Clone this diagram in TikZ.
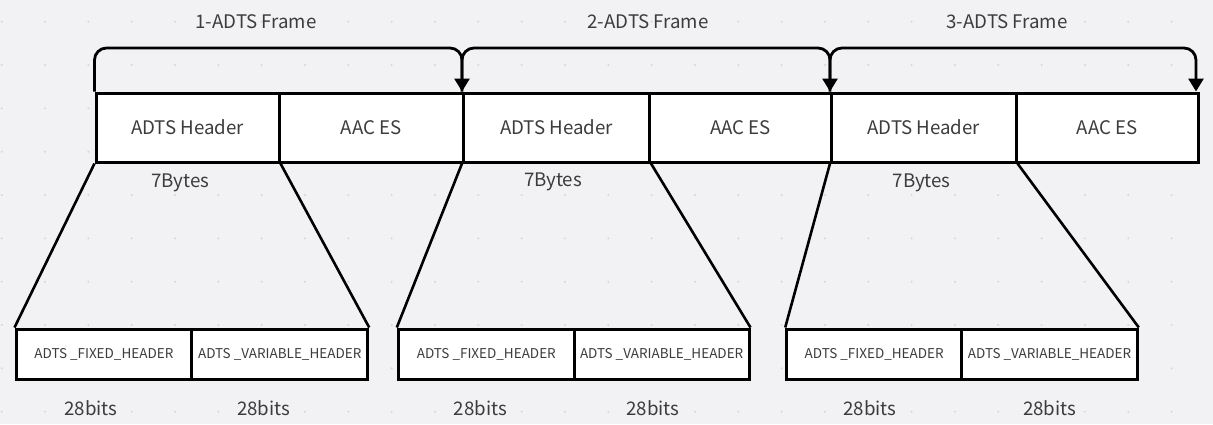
\documentclass[tikz,border=0pt]{standalone}
\usepackage{fontspec}
\setmainfont{Noto Sans CJK SC}
\usetikzlibrary{arrows.meta,calc}
\definecolor{bgc}{HTML}{F2F2F4}
\definecolor{dotc}{HTML}{D6D6DA}
\definecolor{txtc}{HTML}{3C3C3C}
\tikzset{
  topbox/.style={draw=black, line width=3pt, fill=white, minimum height=69pt, inner sep=0pt, text=txtc, font=\fontsize{18.7}{22}\selectfont},
  subbox/.style={draw=black, line width=3pt, fill=white, minimum height=50pt, inner sep=0pt, text=txtc, font=\fontsize{13.5}{16}\selectfont},
  lbl/.style={text=txtc, inner sep=0pt, font=\fontsize{18.7}{22}\selectfont},
  link/.style={draw=black, line width=2.6pt},
  framearrow/.style={draw=black, line width=2.8pt, rounded corners=12pt, -{Triangle[width=15pt,length=13pt]}}
}
\begin{document}
\begin{tikzpicture}[x=1pt,y=-1pt]
\fill[bgc] (0,0) rectangle (1213,424);
\useasboundingbox (0,0) rectangle (1213,424);
\foreach \i in {0,...,27}{\foreach \j in {0,...,9}{\fill[dotc] (1.7+43.33*\i,21.7+43.33*\j) circle (1.1pt);}}
% top boxes
\node[topbox, minimum width=183pt] (h1) at (187.5,127.5) {ADTS Header};
\node[topbox, minimum width=184.5pt] (a1) at (371.25,127.5) {AAC ES};
\node[topbox, minimum width=186pt] (h2) at (556.5,127.5) {ADTS Header};
\node[topbox, minimum width=182pt] (a2) at (740.5,127.5) {AAC ES};
\node[topbox, minimum width=184.5pt] (h3) at (923.75,127.5) {ADTS Header};
\node[topbox, minimum width=182.5pt] (a3) at (1107.25,127.5) {AAC ES};
% bottom boxes
\node[subbox, minimum width=175.7pt] (f1) at (103.85,354) {ADTS \_FIXED\_HEADER};
\node[subbox, minimum width=176pt] (v1) at (279.7,354) {ADTS \_VARIABLE\_HEADER};
\node[subbox, minimum width=176pt] (f2) at (486.3,354) {ADTS \_FIXED\_HEADER};
\node[subbox, minimum width=174.7pt] (v2) at (661.65,354) {ADTS \_VARIABLE\_HEADER};
\node[subbox, minimum width=175pt] (f3) at (874.2,354) {ADTS \_FIXED\_HEADER};
\node[subbox, minimum width=175.6pt] (v3) at (1049.5,354) {ADTS \_VARIABLE\_HEADER};
% links
\draw[link] (h1.south west) -- (f1.north west);
\draw[link] (h1.south east) -- (v1.north east);
\draw[link] (h2.south west) -- (f2.north west);
\draw[link] (h2.south east) -- (v2.north east);
\draw[link] (h3.south west) -- (f3.north west);
\draw[link] (h3.south east) -- (v3.north east);
% frame arrows
\coordinate (top) at (0,48);
\coordinate (e3) at ($(a3.north east)+(-4,0)$);
\draw[framearrow] (h1.north west) -- (h1.north west |- top) -- (h2.north west |- top) -- (h2.north west);
\draw[framearrow] (h2.north west) -- (h2.north west |- top) -- (h3.north west |- top) -- (h3.north west);
\draw[framearrow] (h3.north west) -- (h3.north west |- top) -- (e3 |- top) -- (e3);
% labels
\node[lbl] (t1) at (256,22) {1-ADTS Frame};
\node[lbl] (t2) at (648,22) {2-ADTS Frame};
\node[lbl] (t3) at (1007,22) {3-ADTS Frame};
\node[lbl] (b1) at (180.5,183) {7Bytes};
\node[lbl] (b2) at (553,182) {7Bytes};
\node[lbl] (b3) at (921.7,183) {7Bytes};
\node[lbl] (s1) at (91,408) {28bits};
\node[lbl] (s2) at (263.7,408) {28bits};
\node[lbl] (s3) at (480.3,408) {28bits};
\node[lbl] (s4) at (653,408) {28bits};
\node[lbl] (s5) at (870,408) {28bits};
\node[lbl] (s6) at (1049.7,408) {28bits};
\end{tikzpicture}
\end{document}
